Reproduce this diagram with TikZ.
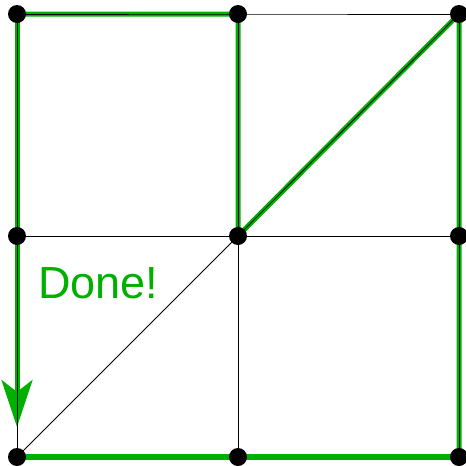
\documentclass[tikz,border=0pt]{standalone}
\usepackage{fontspec}
\setmainfont{Liberation Sans}
\usetikzlibrary{arrows.meta}
\definecolor{grn}{RGB}{0,176,0}
\begin{document}
\begin{tikzpicture}[x=1pt,y=-1pt,
  dot/.style={circle,fill=black,inner sep=0pt,minimum size=18pt},
  thin line/.style={draw=black,line width=0.8pt},
  green edge/.style={draw=grn,line width=5pt},
  green base/.style={draw=grn,line width=6pt}]
\useasboundingbox (0,0) rectangle (466,466);
\coordinate (p00) at (17,14);
\coordinate (p10) at (238,14);
\coordinate (p20) at (459,14);
\coordinate (p01) at (17,236);
\coordinate (p11) at (238,236);
\coordinate (p21) at (459,236);
\coordinate (p02) at (17,457);
\coordinate (p12) at (238,457);
\coordinate (p22) at (459,457);
\coordinate (tip) at (17,427);
% green path
\draw[green edge,line join=round] (p00) -- (p10) -- (p11) -- (p20) -- (p21) -- (p22);
\draw[green edge,-{Stealth[length=47pt,width=31pt,inset=12pt]}] (p00) -- (tip);
\draw[green base] (p02) -- (p22);
% thin lines
\draw[thin line] (p00) -- (p10) -- (p20) -- (p22);
\draw[thin line] (p00) -- (p02);
\draw[thin line] (p10) -- (p12);
\draw[thin line] (p01) -- (p21);
\draw[thin line] (p11) -- (p20);
\draw[thin line] (p11) -- (p02);
% dots
\foreach \p in {p00,p10,p20,p01,p11,p21,p02,p12,p22}
  \node[dot] (n\p) at (\p) {};
\node[anchor=base west,inner sep=0pt,text=grn,font=\fontsize{45}{45}\selectfont] (done) at (38,298) {Done!};
\end{tikzpicture}
\end{document}
